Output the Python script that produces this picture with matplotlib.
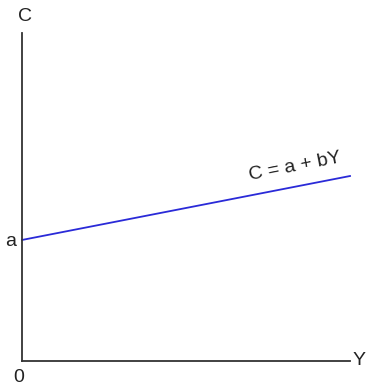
import matplotlib.pyplot as plt
import numpy as np

# Datos de la función de consumo
y_vals = [0, 10]
a = 3.69
b = 0.195
c_vals = [a + b * y for y in y_vals]

plt.rcParams['font.family'] = ['Liberation Sans', 'DejaVu Sans']

fig = plt.figure(figsize=(3.66, 3.85), dpi=100)
ax = fig.add_axes([22 / 366, 24 / 385, 328 / 366, 328 / 385])
ax.set_xlim(0, 10)
ax.set_ylim(0, 10)

# Recta de consumo
ax.plot(y_vals, c_vals, color='#2a2ad8', linewidth=1.3, clip_on=False)

# Ejes: solo izquierda y abajo
for s in ['top', 'right']:
    ax.spines[s].set_visible(False)
for s in ['left', 'bottom']:
    ax.spines[s].set_color('#333333')
    ax.spines[s].set_linewidth(1.3)
ax.set_xticks([])
ax.set_yticks([])
ax.patch.set_alpha(0)

# Etiquetas
fs = 14
ax.text(0.09, 10.49, 'C', fontsize=fs, ha='center', va='center', color='#222222', clip_on=False)
ax.text(10.27, 0.03, 'Y', fontsize=fs, ha='center', va='center', color='#222222', clip_on=False)
ax.text(-0.11, -0.49, '0', fontsize=fs, ha='center', va='center', color='#222222', clip_on=False)
ax.text(-0.35, a - 0.05, 'a', fontsize=fs, ha='center', va='center', color='#222222', clip_on=False)

# Etiqueta de la recta, girada con la pendiente
x_lab = 8.32
ax.text(x_lab, a + b * x_lab + 0.6, 'C = a + bY', fontsize=fs, ha='center', va='center',
        color='#222222', rotation=np.degrees(np.arctan(b)), rotation_mode='anchor')

fig.savefig('out.png', dpi=100)
